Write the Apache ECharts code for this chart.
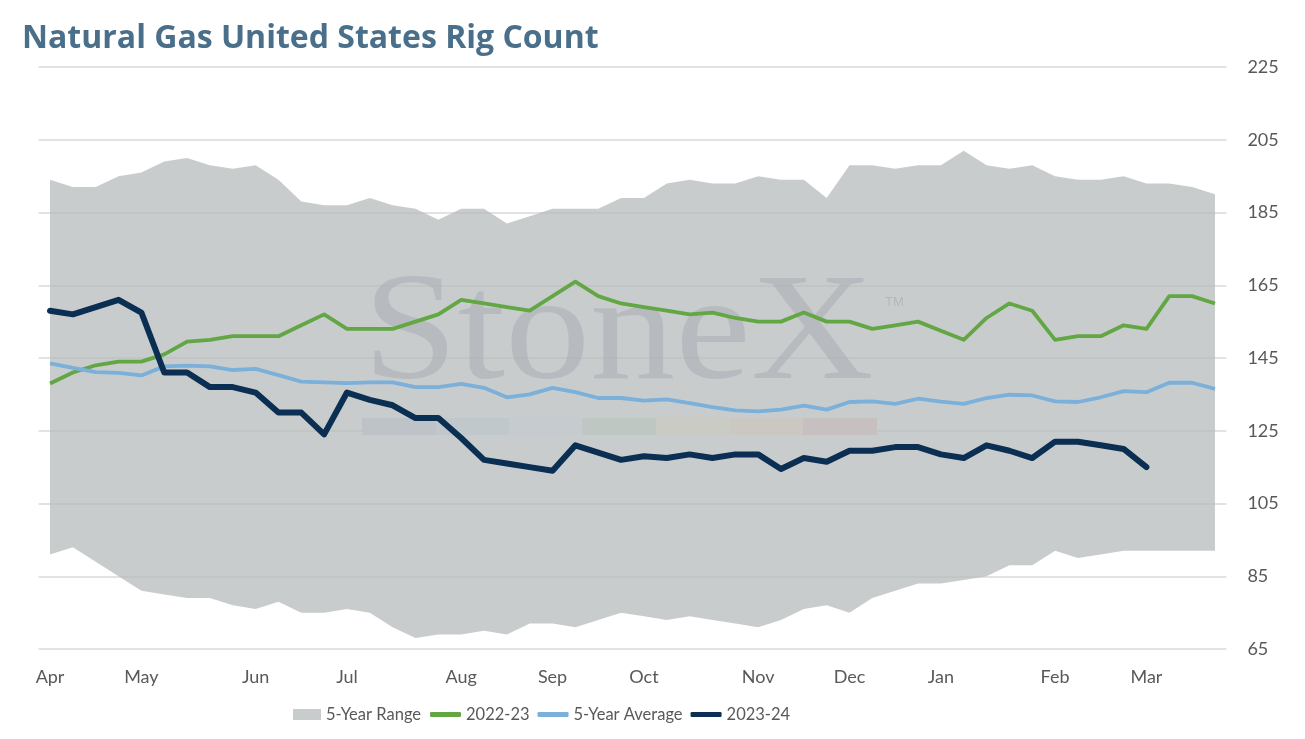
<!DOCTYPE html>
<html>
<head>
<meta charset="utf-8">
<title>Natural Gas United States Rig Count</title>
<script src="https://cdn.jsdelivr.net/npm/echarts/dist/echarts.min.js"></script>
<style>
  html, body { margin: 0; padding: 0; background: #fff; }
  #main { width: 1305px; height: 739px; }
</style>
</head>
<body>
<div id="main"></div>
<script>
// weekly categories, month name on first week of month
var weeks = [
  'Apr','','','',
  'May','','','','',
  'Jun','','','',
  'Jul','','','','',
  'Aug','','','',
  'Sep','','','',
  'Oct','','','','',
  'Nov','','','',
  'Dec','','','',
  'Jan','','','','',
  'Feb','','','',
  'Mar','','',''
];

// 5 year range (max / min)
var rangeHigh = [194,192,192,195,196,199,200,198,197,198,194,188,187,187,189,187,186,183,186,186,182,184,186,186,186,189,
                 189,193,194,193,193,195,194,194,189,198,198,197,198,198,202,198,197,198,195,194,194,195,193,193,192,190];
var rangeLow  = [91,93,89,85,81,80,79,79,77,76,78,75,75,76,75,71,68,69,69,70,69,72,72,71,73,75,
                 74,73,74,73,72,71,73,76,77,75,79,81,83,83,84,85,88,88,92,90,91,92,92,92,92,92];

var s2022 = [138,141,143,144,144,146,149.5,150,151,151,151,154,157,153,153,153,155,157,161,160,159,158,162,166,162,160,
             159,158,157,157.5,156,155,155,157.5,155,155,153,154,155,152.5,150,156,160,158,150,151,151,154,153,162,162,160];
var avg5 = [143.5,142.3,141.1,140.9,140.2,142.7,142.9,142.7,141.7,142,140.3,138.5,138.3,138.1,138.3,138.3,137,137,137.9,136.8,134.2,135,136.8,135.6,134,134,
            133.3,133.6,132.6,131.5,130.6,130.3,130.8,131.9,130.8,132.9,133.1,132.4,133.8,133,132.4,134,134.9,134.7,133.1,132.9,134.2,135.9,135.6,138.2,138.2,136.5];
var s2023 = [158,157,159,161,157.5,141,141,137,137,135.5,130,130,124,135.5,133.5,132,128.5,128.5,123,117,116,115,114,121,119,117,
             118,117.5,118.5,117.5,118.5,118.5,114.5,117.5,116.5,119.5,119.5,120.5,120.5,118.5,117.5,121,119.5,117.5,122,122,121,120,115];

var yTicks = { min: 65, max: 225, step: 20 };

var rangeDiff = [];
for (var i = 0; i < rangeHigh.length; i++) {
  rangeDiff.push(rangeHigh[i] - rangeLow[i]);
}

var bandColor = 'rgba(184,188,189,0.76)';
var labelFont = 'Lato';

var myChart = echarts.init(document.getElementById('main'));

myChart.setOption({
  animation: false,
  title: {
    text: 'Natural Gas United States Rig Count',
    left: 17,
    top: 18,
    textStyle: {
      fontFamily: 'Open Sans',
      fontSize: 32,
      fontWeight: 'bold',
      color: '#4a6f8a'
    }
  },
  grid: {
    left: 38.6,
    right: 78.6,
    top: 67,
    bottom: 90,
    containLabel: false
  },
  legend: [{
    data: ['5-Year Range'],
    left: 293,
    top: 706,
    padding: 0,
    icon: 'rect',
    itemWidth: 28,
    itemHeight: 11,
    textStyle: { fontFamily: labelFont, fontSize: 16.5, color: '#595959' }
  }, {
    data: ['2022-23', '5-Year Average', '2023-24'],
    left: 430,
    top: 706,
    padding: 0,
    icon: 'roundRect',
    itemWidth: 31,
    itemHeight: 5,
    itemGap: 8,
    textStyle: { fontFamily: labelFont, fontSize: 16.5, color: '#595959' }
  }],
  xAxis: {
    type: 'category',
    data: weeks,
    boundaryGap: true,
    axisLine: { show: false },
    axisTick: { show: false },
    axisLabel: {
      interval: 0,
      margin: 19,
      fontFamily: labelFont,
      fontSize: 18,
      color: '#595959'
    }
  },
  yAxis: {
    type: 'value',
    position: 'right',
    min: yTicks.min,
    max: yTicks.max,
    interval: yTicks.step,
    axisLine: { show: false },
    axisTick: { show: false },
    axisLabel: {
      margin: 21,
      fontFamily: labelFont,
      fontSize: 18,
      color: '#595959'
    },
    splitLine: { lineStyle: { color: '#d9d9d9', width: 1.5 } }
  },
  // StoneX watermark
  graphic: [
    { type: 'text', x: 363, y: 338, scaleX: 1.12, z: 3, silent: true,
      style: { text: 'StoneX', font: '152px "Liberation Serif"', fill: 'rgba(166,172,177,0.5)', verticalAlign: 'middle' } },
    { type: 'text', x: 885, y: 302, z: 3, silent: true,
      style: { text: 'TM', font: '13px "Liberation Sans"', fill: 'rgba(166,172,177,0.6)', verticalAlign: 'middle' } },
    { type: 'rect', z: 3, silent: true, shape: { x: 362, y: 418, width: 74, height: 17 }, style: { fill: '#bdc3c7' } },
    { type: 'rect', z: 3, silent: true, shape: { x: 436, y: 418, width: 73, height: 17 }, style: { fill: '#c1c8cb' } },
    { type: 'rect', z: 3, silent: true, shape: { x: 509, y: 418, width: 73, height: 17 }, style: { fill: '#c5cbce' } },
    { type: 'rect', z: 3, silent: true, shape: { x: 582, y: 418, width: 74, height: 17 }, style: { fill: '#bfc7c3' } },
    { type: 'rect', z: 3, silent: true, shape: { x: 656, y: 418, width: 74, height: 17 }, style: { fill: '#cbcbc5' } },
    { type: 'rect', z: 3, silent: true, shape: { x: 730, y: 418, width: 73, height: 17 }, style: { fill: '#cbc7c1' } },
    { type: 'rect', z: 3, silent: true, shape: { x: 803, y: 418, width: 74, height: 17 }, style: { fill: '#c6c0c1' } }
  ],
  series: [{
    name: 'rangeBase',
    type: 'line',
    stack: 'range',
    data: rangeLow,
    symbol: 'none',
    lineStyle: { opacity: 0 },
    z: 2,
    silent: true
  }, {
    name: '5-Year Range',
    type: 'line',
    stack: 'range',
    data: rangeDiff,
    symbol: 'none',
    color: bandColor,
    lineStyle: { opacity: 0 },
    areaStyle: { color: bandColor, opacity: 1 },
    z: 2,
    silent: true
  }, {
    name: '2022-23',
    type: 'line',
    data: s2022,
    symbol: 'none',
    color: '#62a744',
    lineStyle: { width: 3.8, join: 'round' },
    z: 5
  }, {
    name: '5-Year Average',
    type: 'line',
    data: avg5,
    symbol: 'none',
    color: '#7bb0da',
    lineStyle: { width: 3.8, join: 'round' },
    z: 5
  }, {
    name: '2023-24',
    type: 'line',
    data: s2023,
    symbol: 'none',
    color: '#0b2f52',
    lineStyle: { width: 6, cap: 'round', join: 'round' },
    z: 6
  }]
});
</script>
</body>
</html>
